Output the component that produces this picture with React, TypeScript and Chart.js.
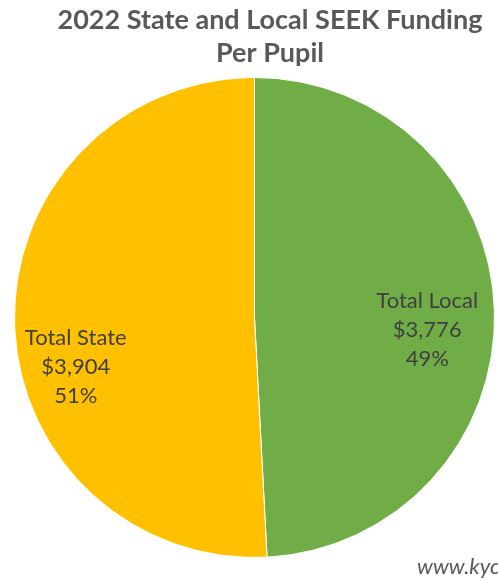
import React, { useEffect, useRef } from "react";
import { Chart, registerables } from "chart.js";

Chart.register(...registerables);

const categories = ["Total Local", "Total State"];
const amounts = [3776, 3904];
const percentLabels = ["49%", "51%"];
const sliceColors = ["#70AD47", "#FFC000"];
const titleLines = ["2022 State and Local SEEK Funding", "Per Pupil"];
const sourceText = "www.kyc";

const CANVAS_W = 540;
const CANVAS_H = 581;

const fmtMoney = (v: number) => "$" + v.toLocaleString("en-US");

const titlePlugin = {
  id: "customTitle",
  afterDraw(chart: any) {
    const ctx = chart.ctx;
    ctx.save();
    ctx.fillStyle = "#595959";
    ctx.font = "bold 27px Lato";
    ctx.textAlign = "center";
    ctx.textBaseline = "alphabetic";
    const cx = chart.width / 2;
    titleLines.forEach((t, i) => ctx.fillText(t, cx, 29 + i * 33));
    ctx.font = "italic 22px Lato";
    ctx.fillStyle = "#595959";
    ctx.textAlign = "left";
    ctx.fillText(sourceText, 417, 574);
    ctx.restore();
  },
};

const labelOffsets = [
  { r: 0.72, dy: 17 },
  { r: 0.745, dy: 45 },
];

const labelPlugin = {
  id: "sliceLabels",
  afterDatasetsDraw(chart: any) {
    const ctx = chart.ctx;
    const meta = chart.getDatasetMeta(0);
    ctx.save();
    ctx.fillStyle = "#404040";
    ctx.font = "22px Lato";
    ctx.textAlign = "center";
    ctx.textBaseline = "middle";
    meta.data.forEach((arc: any, i: number) => {
      const { x, y, startAngle, endAngle, outerRadius } = arc.getProps(
        ["x", "y", "startAngle", "endAngle", "outerRadius"],
        true
      );
      const mid = (startAngle + endAngle) / 2;
      const o = labelOffsets[i];
      const lx = x + Math.cos(mid) * outerRadius * o.r;
      const ly = y + Math.sin(mid) * outerRadius * o.r + o.dy;
      const lines = [categories[i], fmtMoney(amounts[i]), percentLabels[i]];
      lines.forEach((t, j) => ctx.fillText(t, lx, ly + (j - 1) * 29));
    });
    ctx.restore();
  },
};

export default function App() {
  const ref = useRef<HTMLCanvasElement | null>(null);
  useEffect(() => {
    if (!ref.current) return;
    const chart = new Chart(ref.current, {
      type: "pie",
      data: {
        labels: categories,
        datasets: [
          {
            data: amounts,
            backgroundColor: sliceColors,
            borderColor: "#FFFFFF",
            borderWidth: 1,
          },
        ],
      },
      options: {
        responsive: false,
        animation: false,
        layout: { padding: { top: 76, bottom: 22, left: 14, right: 45 } },
        plugins: {
          legend: { display: false },
          title: { display: false },
          tooltip: { enabled: false },
        },
      },
      plugins: [titlePlugin, labelPlugin],
    });
    return () => chart.destroy();
  }, []);
  return (
    <div
      style={{
        position: "absolute",
        left: 0,
        top: 0,
        width: 498,
        height: 581,
        overflow: "hidden",
        background: "#fff",
      }}
    >
      <canvas
        ref={ref}
        width={CANVAS_W}
        height={CANVAS_H}
        style={{ width: CANVAS_W, height: CANVAS_H, display: "block" }}
      />
    </div>
  );
}
